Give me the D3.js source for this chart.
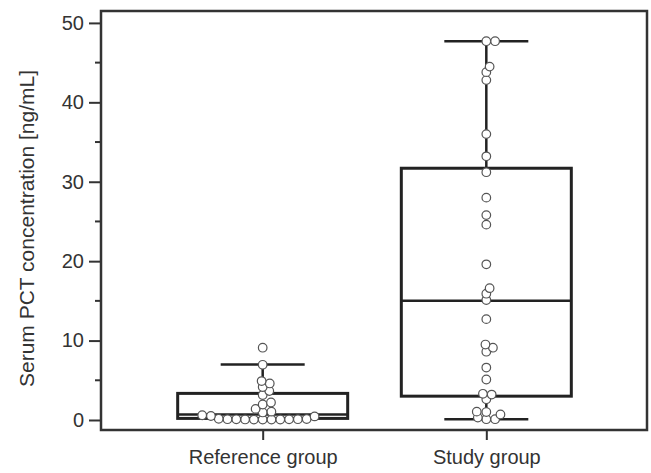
<!DOCTYPE html>
<html>
<head>
<meta charset="utf-8">
<script src="https://cdn.jsdelivr.net/npm/d3@7"></script>
<style>
  body { margin: 0; background: #fff; }
  text { font-family: "Liberation Sans", Arial, sans-serif; fill: #333; }
</style>
</head>
<body>
<svg id="chart" width="651" height="473"></svg>
<script>
const categories = ['Reference group', 'Study group']

const referenceValues = [9.1, 6.95, 4.9, 4.6, 4.15, 3.65, 3.15, 2.2, 1.95, 1.4, 1.05, 0.95,
  0.6, 0.5, 0.45, 0.15, 0.12, 0.1, 0.1, 0.09, 0.08, 0.07, 0.06, 0.05, 0.05, 0.05]
const studyValues = [47.7, 47.7, 44.5, 43.8, 42.8, 36.0, 33.2, 31.2, 28.0, 25.8, 24.6, 19.6,
  16.6, 15.9, 15.1, 12.7, 9.5, 9.1, 8.6, 6.6, 5.1, 3.3, 3.2, 2.6, 1.05, 1.0, 0.7, 0.3, 0.1, 0.1]

// box statistics: lower whisker, Q1, median, Q3, upper whisker
const referenceBox = [0.05, 0.2, 0.7, 3.35, 7.0]
const studyBox = [0.1, 3.0, 15.0, 31.7, 47.7]

const yTicks = [0, 10, 20, 30, 40, 50]
const yMinorTicks = [5, 15, 25, 35, 45]
const yTitle = 'Serum PCT concentration [ng/mL]'

const groups = [
  { name: categories[0], values: referenceValues, box: referenceBox },
  { name: categories[1], values: studyValues, box: studyBox }
]

const width = 651
const height = 473
const margin = { top: 11, right: 3, bottom: 43, left: 101 }
const boxWidth = 170
const capWidth = 84
const r = 4.3
// spacing of the dots: horizontal and vertical reach of a collision
const spanX = 8.8
const spanY = 6

const svg = d3.select('#chart')

const x = d3.scalePoint()
  .domain(categories)
  .range([margin.left, width - margin.right])
  .padding(0.723)

const y = d3.scaleLinear()
  .domain([-1.26, 51.5])
  .range([height - margin.bottom, margin.top])

// y axis
const yAxis = svg.append('g')
  .attr('transform', `translate(${margin.left},0)`)
  .call(d3.axisLeft(y).tickValues(yTicks).tickSize(12).tickPadding(5))
yAxis.select('.domain').remove()
yAxis.selectAll('line').attr('stroke', '#333').attr('stroke-width', 2)
yAxis.selectAll('text')
  .attr('font-size', '20px')
  .attr('font-family', '"Liberation Sans", Arial, sans-serif')
  .attr('fill', '#333')

svg.append('g')
  .selectAll('line')
  .data(yMinorTicks)
  .join('line')
  .attr('x1', margin.left - 6)
  .attr('x2', margin.left)
  .attr('y1', d => y(d))
  .attr('y2', d => y(d))
  .attr('stroke', '#333')
  .attr('stroke-width', 2)

// x axis
const xAxis = svg.append('g')
  .attr('transform', `translate(0,${height - margin.bottom})`)
  .call(d3.axisBottom(x).tickSize(10).tickPadding(10))
xAxis.select('.domain').remove()
xAxis.selectAll('line').attr('stroke', '#333').attr('stroke-width', 2)
xAxis.selectAll('text')
  .attr('font-size', '20px')
  .attr('font-family', '"Liberation Sans", Arial, sans-serif')
  .attr('fill', '#333')

// frame
svg.append('rect')
  .attr('x', margin.left)
  .attr('y', margin.top)
  .attr('width', width - margin.left - margin.right - 1)
  .attr('height', height - margin.top - margin.bottom)
  .attr('fill', 'none')
  .attr('stroke', '#333')
  .attr('stroke-width', 2.5)

// y title
svg.append('text')
  .attr('transform', `translate(34,${(margin.top + height - margin.bottom) / 2 + 8}) rotate(-90)`)
  .attr('text-anchor', 'middle')
  .attr('font-size', '21px')
  .text(yTitle)

// simple beeswarm: place each point at the free offset closest to the centre
function swarm (values) {
  const hits = (a, b) => ((a.dx - b.dx) / spanX) ** 2 + ((a.y - b.y) / spanY) ** 2 < 0.999
  const placed = []
  values.slice().sort((a, b) => a - b).forEach(v => {
    const py = y(v)
    const cands = [0]
    placed.forEach(p => {
      const dy = Math.abs(p.y - py)
      if (dy < spanY) {
        const dx = spanX * Math.sqrt(1 - (dy / spanY) ** 2)
        cands.push(p.dx + dx, p.dx - dx)
      }
    })
    cands.sort((a, b) => Math.abs(a) - Math.abs(b) || b - a)
    const dx = cands.find(c => placed.every(p => !hits(p, { dx: c, y: py })))
    placed.push({ v, y: py, dx })
  })
  return placed
}

const g = svg.selectAll('g.group')
  .data(groups)
  .join('g')
  .attr('class', 'group')
  .attr('transform', d => `translate(${x(d.name)},0)`)

// whiskers
g.append('line')
  .attr('x1', 0).attr('x2', 0)
  .attr('y1', d => y(d.box[0]))
  .attr('y2', d => y(d.box[1]))
  .attr('stroke', '#222').attr('stroke-width', 2.5)
g.append('line')
  .attr('x1', 0).attr('x2', 0)
  .attr('y1', d => y(d.box[3]))
  .attr('y2', d => y(d.box[4]))
  .attr('stroke', '#222').attr('stroke-width', 2.5)
g.selectAll('line.cap')
  .data(d => [d.box[0], d.box[4]])
  .join('line')
  .attr('class', 'cap')
  .attr('x1', -capWidth / 2).attr('x2', capWidth / 2)
  .attr('y1', d => y(d)).attr('y2', d => y(d))
  .attr('stroke', '#222').attr('stroke-width', 2.5)

// box
g.append('rect')
  .attr('x', -boxWidth / 2)
  .attr('width', boxWidth)
  .attr('y', d => y(d.box[3]))
  .attr('height', d => y(d.box[1]) - y(d.box[3]))
  .attr('fill', 'none')
  .attr('stroke', '#222')
  .attr('stroke-width', 3)
g.append('line')
  .attr('x1', -boxWidth / 2).attr('x2', boxWidth / 2)
  .attr('y1', d => y(d.box[2])).attr('y2', d => y(d.box[2]))
  .attr('stroke', '#222').attr('stroke-width', 2.5)

// points
g.selectAll('circle')
  .data(d => swarm(d.values))
  .join('circle')
  .attr('cx', d => d.dx)
  .attr('cy', d => d.y)
  .attr('r', r)
  .attr('fill', '#fff')
  .attr('stroke', '#555')
  .attr('stroke-width', 1.2)
</script>
</body>
</html>
